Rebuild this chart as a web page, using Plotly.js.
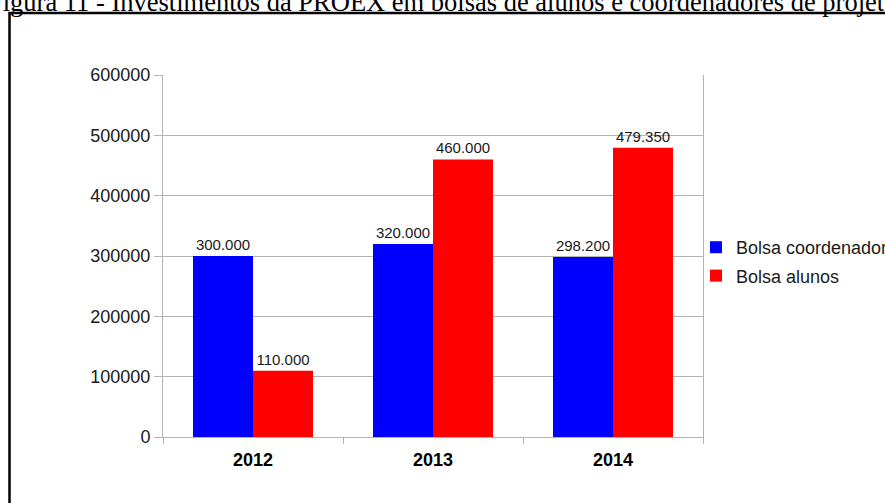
<!DOCTYPE html>
<html>
<head>
<meta charset="utf-8">
<script src="https://cdn.plot.ly/plotly-3.0.1.min.js"></script>
<style>html,body{margin:0;padding:0;background:#fff;}#chart{width:885px;height:503px;}</style>
</head>
<body>
<div id="chart"></div>
<script>
const years = ['2012', '2013', '2014'];
const bolsaCoordenador = [300000, 320000, 298200];
const bolsaAlunos = [110000, 460000, 479350];
const seriesNames = ['Bolsa coordenador', 'Bolsa alunos'];
const titleText = 'Figura 11 - Investimentos da PROEX em bolsas de alunos e coordenadores de projeto';

const W = 885, H = 503;
const L = 163, R = 703, T = 75, B = 437;
const px = x => (x - L) / (R - L);
const py = y => (B - y) / (B - T);

const textFont = {family: 'Liberation Sans, Arial, sans-serif', size: 15, color: '#1a1a1a'};

const traces = [
  {type: 'bar', name: seriesNames[0], x: years, y: bolsaCoordenador,
   marker: {color: '#0000ff'}, text: bolsaCoordenador, texttemplate: '%{y:,.0f}',
   textposition: 'outside', textfont: textFont, cliponaxis: false, legendgroup: 'a', hoverinfo: 'none'},
  {type: 'bar', name: seriesNames[1], x: years, y: bolsaAlunos,
   marker: {color: '#ff0000'}, text: bolsaAlunos, texttemplate: '%{y:,.0f}',
   textposition: 'outside', textfont: textFont, cliponaxis: false, legendgroup: 'b', hoverinfo: 'none'}
];

const layout = {
  width: W, height: H,
  margin: {l: L, r: W - R, t: T, b: H - B, pad: 0, autoexpand: false},
  paper_bgcolor: '#ffffff', plot_bgcolor: '#ffffff',
  separators: ',.',
  barmode: 'group', bargap: 1/3, bargroupgap: 0,
  showlegend: true,
  legend: {x: px(696), xanchor: 'left', y: py(229), yanchor: 'top',
           font: {family: 'Liberation Sans, Arial, sans-serif', size: 18, color: '#1a1a1a'},
           traceorder: 'grouped', tracegroupgap: 2, bgcolor: 'rgba(0,0,0,0)', borderwidth: 0},
  xaxis: {type: 'category', tickson: 'boundaries', ticks: 'outside', ticklen: 6, tickcolor: '#b3b3b3',
          showgrid: false, showline: true, linecolor: '#b3b3b3', linewidth: 1, zeroline: false,
          tickfont: {family: 'Liberation Sans, Arial, sans-serif', size: 18, color: '#000', weight: 'bold'},
          ticklabelstandoff: 6, automargin: false},
  yaxis: {range: [0, 600000], dtick: 100000, tickformat: 'd', ticks: 'outside', ticklen: 8, tickcolor: '#b3b3b3',
          showgrid: true, gridcolor: '#b3b3b3', gridwidth: 1, showline: true, mirror: true, linecolor: '#b3b3b3',
          linewidth: 1, zeroline: false, automargin: false,
          tickfont: {family: 'Liberation Sans, Arial, sans-serif', size: 18, color: '#1a1a1a'}},
  shapes: [
    {type: 'rect', xref: 'paper', yref: 'paper', x0: px(9.5), x1: px(900), y0: py(13), y1: py(520),
     line: {color: '#000', width: 2.5}, fillcolor: 'rgba(0,0,0,0)', layer: 'above'}
  ],
  annotations: [
    {text: titleText, xref: 'paper', yref: 'paper', x: px(442), y: py(2), xanchor: 'center', yanchor: 'middle',
     showarrow: false, font: {family: 'Liberation Serif, Times New Roman, serif', size: 26.5, color: '#000'}}
  ]
};

Plotly.newPlot('chart', traces, layout, {displayModeBar: false, staticPlot: true});
</script>
</body>
</html>
